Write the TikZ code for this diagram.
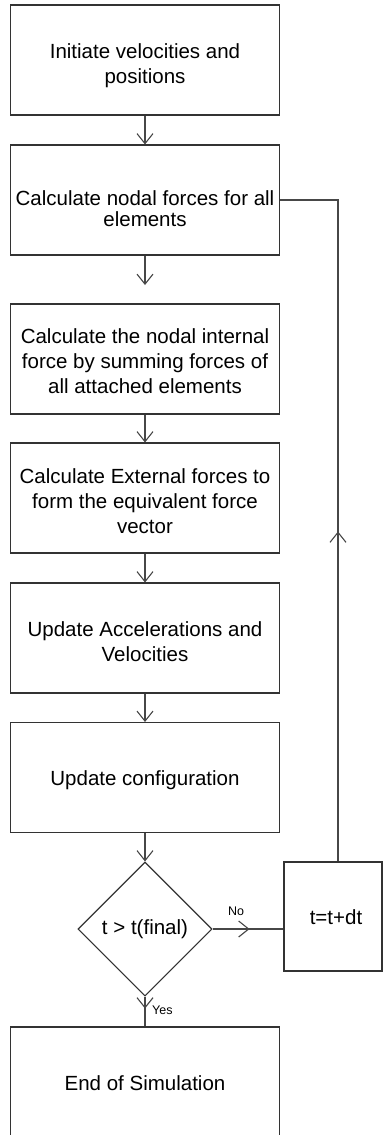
\documentclass[tikz,border=0pt]{standalone}
\usepackage{fontspec}
\setmainfont{Liberation Sans}
\usetikzlibrary{arrows.meta,shapes.geometric,decorations.markings}

\begin{document}
\begin{tikzpicture}[x=1pt,y=-1pt,
  wire/.style={draw=black!72, line width=1.1pt},
  barb/.tip={Straight Barb[length=10pt,width=16pt]},
  procbox/.style={rectangle, draw=black!80, line width=1.1pt,
    minimum width=269pt, minimum height=110pt, inner sep=0pt},
  txt/.style={align=center, inner sep=0pt, font=\fontsize{20.5}{25}\selectfont},
  decision/.style={diamond, aspect=1, draw=black!80, line width=1.1pt,
    minimum width=134pt, minimum height=134pt, inner sep=0pt,
    font=\fontsize{20.5}{25}\selectfont},
  flow/.style={wire, -barb},
  midflow/.style={wire, postaction={decorate},
    decoration={markings, mark=at position #1 with {\arrow{barb}}}},
  tag/.style={font=\fontsize{12.5}{14}\selectfont, inner sep=0pt}
]
\useasboundingbox (0,0) rectangle (383,1135);
\clip (0,0) rectangle (383,1135);

% process steps (frames)
\node[procbox] (init)  at (145,60)    {};
\node[procbox] (nodal) at (145,200)   {};
\node[procbox] (intf)  at (145,359)   {};
\node[procbox] (extf)  at (145,498)   {};
\node[procbox] (accel) at (145,638)   {};
\node[procbox] (conf)  at (145,777.5) {};
\node[decision] (test) at (145,929)   {t > t(final)};
\node[procbox, minimum width=98pt, minimum height=109pt] (tstep) at (333,916.5) {};
\node[procbox] (done)  at (145,1082)  {};

% step texts
\node[txt] (initT)  at ([yshift=-6pt]init.center)  {Initiate velocities and\\positions};
\node[txt, font=\fontsize{20.5}{21}\selectfont] (nodalT) at ([yshift=-9pt]nodal.center) {Calculate nodal forces for all\\elements};
\node[txt] (intfT)  at ([yshift=-2pt]intf.center)  {Calculate the nodal internal\\force by summing forces of\\all attached elements};
\node[txt] (extfT)  at ([yshift=-3pt]extf.center)  {Calculate External forces to\\form the equivalent force\\vector};
\node[txt] (accelT) at ([yshift=-4pt]accel.center) {Update Accelerations and\\Velocities};
\node[txt] (confT)  at ([yshift=-3pt]conf.center)  {Update configuration};
\node[txt] (tstepT) at ([xshift=3pt,yshift=-1pt]tstep.center) {t=t+dt};
\node[txt] (doneT)  at ([yshift=-1pt]done.center)  {End of Simulation};

% main chain
\coordinate (gap) at (145,285);
\draw[flow] (init) -- (nodal);
\draw[flow] (nodal) -- (gap);
\draw[flow] (intf) -- (extf);
\draw[flow] (extf) -- (accel);
\draw[flow] (accel) -- (conf);
\draw[flow] (conf) -- (test);

% branches of the test
\draw[midflow=37pt] (test.east) -- (test.east -| tstep.west);
\node[tag] (no) at (236,911) {No};
\draw[midflow=12pt] (test.south) -- (done.north);
\node[tag, anchor=west] (yes) at (152,1010) {Yes};

% loop back to the force calculation
\draw[midflow=330pt] ([xshift=5pt]tstep.north) |- (nodal.east);
\end{tikzpicture}
\end{document}
